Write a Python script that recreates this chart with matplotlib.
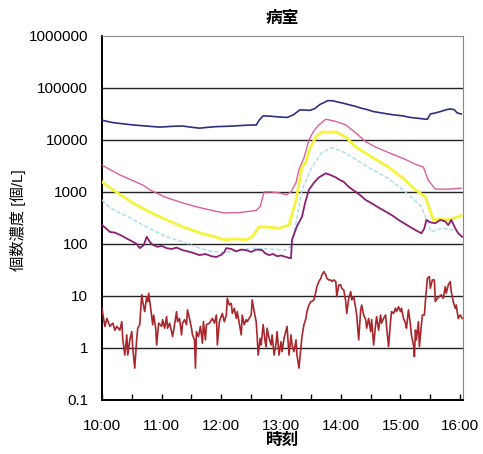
import matplotlib
matplotlib.use("Agg")
import matplotlib.pyplot as plt
from matplotlib.ticker import FixedLocator, FuncFormatter

plt.rcParams["font.family"] = ["Liberation Sans", "Noto Sans CJK JP", "DejaVu Sans"]

# 時刻は 10:00 からの経過分
navy_t = [0, 6, 11, 20, 31, 44, 58, 70, 81, 90, 98, 107, 115, 124, 132, 142, 152, 155,
          158, 162, 170, 176, 186, 192, 199, 209, 214, 219, 223, 227, 232, 236, 242,
          249, 255, 260, 267, 273, 283, 293, 302, 310, 318, 325, 327, 330, 335, 340,
          345, 350, 354, 357, 361]
navy_v = [24000, 22500, 21500, 20500, 19400, 18500, 17600, 18200, 18500, 17500, 16800,
          17500, 18000, 18200, 18500, 19000, 19400, 19200, 24000, 29000, 28500, 27800,
          27000, 30000, 37800, 37000, 40000, 48000, 52000, 57000, 56500, 54000, 51000,
          47000, 44000, 41000, 38000, 35000, 32500, 30300, 29000, 27000, 26000, 25000,
          25000, 31500, 33000, 35000, 37500, 39500, 38000, 33000, 31500]

pink_t = [0, 8, 18, 28, 41, 48, 63, 81, 98, 113, 123, 138, 155, 159, 163, 170, 178, 185,
          190, 195, 198, 203, 208, 213, 218, 225, 235, 245, 255, 265, 277, 288, 305, 315,
          323, 328, 335, 348, 361]
pink_v = [3300, 2700, 2120, 1750, 1360, 1100, 800, 614, 500, 430, 394, 400, 440, 520,
          1000, 1000, 960, 880, 1000, 1500, 2700, 4500, 10000, 15000, 19400, 25000,
          22700, 19400, 13700, 9200, 7000, 5700, 4200, 3400, 3000, 1660, 1130, 1130, 1180]

yellow_t = [0, 11, 20, 31, 48, 65, 81, 100, 112, 123, 135, 145, 151, 158, 168, 178, 188,
            195, 201, 205, 208, 215, 221, 228, 235, 245, 255, 271, 288, 303, 315, 325,
            333, 340, 348, 355, 361]
yellow_v = [1560, 1100, 850, 614, 410, 290, 214, 160, 140, 120, 125, 120, 137, 214, 210,
            200, 230, 700, 3000, 3700, 6300, 11400, 14300, 14000, 14300, 11400, 7300,
            4700, 3000, 1800, 1100, 800, 290, 300, 290, 320, 350]

cyan_t = [0, 8, 18, 28, 38, 52, 65, 81, 98, 110, 123, 138, 151, 168, 185, 190, 195, 201,
          211, 221, 231, 243, 255, 270, 288, 305, 321, 331, 341, 348, 355, 361]
cyan_v = [700, 500, 394, 320, 250, 180, 137, 110, 83, 72, 68, 75, 83, 80, 76, 90, 250,
          1100, 3000, 5700, 7100, 5800, 4200, 2800, 1800, 1000, 520, 170, 200, 190, 185,
          150]

purple_t = [0, 4, 8, 13, 18, 24, 31, 35, 38, 42, 45, 48, 51, 56, 60, 65, 70, 75, 81, 86,
            91, 98, 104, 110, 115, 120, 123, 125, 130, 135, 140, 145, 150, 155, 161, 164,
            168, 172, 176, 180, 185, 188, 190, 191, 196, 201, 204, 208, 213, 218, 225,
            230, 235, 239, 243, 248, 255, 260, 265, 270, 278, 285, 292, 298, 305, 310,
            315, 321, 324, 326, 330, 335, 340, 345, 348, 351, 355, 358, 362]
purple_v = [232, 200, 170, 165, 150, 130, 110, 100, 83, 95, 137, 110, 96, 88, 92, 83, 80,
            85, 76, 72, 68, 61, 64, 58, 56, 62, 70, 83, 80, 72, 78, 76, 70, 78, 76, 66,
            61, 64, 58, 60, 56, 54, 53, 120, 220, 330, 600, 1100, 1500, 1900, 2280, 2100,
            1900, 1700, 1560, 1250, 1000, 850, 700, 620, 500, 420, 350, 290, 240, 210,
            185, 160, 200, 290, 260, 250, 290, 270, 230, 290, 200, 160, 137]

red_t = [0, 3, 5, 8, 11, 13, 15, 18, 20, 21, 23, 25, 26, 28, 30, 31, 33, 35, 36, 38, 40,
         41, 43, 45, 46, 47, 49, 51, 52, 54, 55, 57, 60, 61, 63, 65, 66, 68, 70, 71, 73,
         75, 76, 78, 80, 81, 83, 85, 86, 88, 90, 91, 93, 94, 95, 97, 99, 101, 102, 104,
         105, 108, 111, 113, 115, 116, 118, 121, 123, 125, 126, 128, 130, 131, 133, 135,
         136, 138, 140, 141, 143, 145, 146, 148, 150, 151, 153, 155, 156, 157, 159, 160,
         162, 164, 165, 166, 168, 170, 171, 173, 175, 176, 178, 180, 181, 183, 186, 188,
         190, 191, 193, 195, 196, 198, 200, 201, 203, 205, 206, 208, 210, 211, 213, 215,
         216, 218, 220, 221, 223, 225, 226, 228, 230, 231, 233, 235, 236, 238, 240, 241,
         243, 245, 246, 248, 250, 251, 253, 255, 256, 258, 260, 261, 263, 265, 266, 268,
         270, 271, 273, 275, 276, 278, 280, 281, 283, 285, 286, 288, 290, 291, 293, 295,
         296, 298, 300, 301, 303, 305, 306, 308, 310, 311, 313, 314, 315, 316, 318, 319,
         321, 322, 324, 325, 327, 329, 330, 332, 334, 335, 337, 339, 341, 343, 345, 346,
         348, 350, 351, 353, 355, 356, 358, 360, 362]
red_v = [5.8, 2.6, 3.7, 2.6, 3.0, 2.2, 2.6, 2.2, 3.2, 1.43, 0.73, 1.78, 0.73, 1.43, 2.06,
         0.99, 0.41, 1.53, 2.4, 2.8, 10.5, 7.8, 5.0, 9.7, 7.8, 11.3, 5.8, 2.8, 4.3, 2.4,
         1.14, 3.0, 2.6, 3.5, 2.4, 4.0, 2.4, 3.0, 2.06, 1.65, 2.8, 5.0, 3.2, 3.7, 1.78,
         3.0, 3.5, 2.8, 5.4, 3.7, 2.4, 1.78, 1.43, 0.41, 2.06, 1.65, 2.6, 1.23, 3.2, 1.43,
         2.8, 3.0, 3.7, 3.0, 4.3, 1.14, 3.2, 4.6, 3.2, 4.3, 9.0, 6.7, 7.2, 4.6, 5.8, 3.7,
         5.0, 3.0, 1.78, 4.3, 2.8, 3.5, 3.2, 3.7, 4.3, 8.4, 5.0, 3.2, 1.65, 0.73, 1.53,
         1.14, 2.8, 1.32, 1.06, 2.4, 1.53, 1.14, 1.78, 0.73, 1.23, 2.06, 0.73, 1.32, 0.85,
         1.53, 2.6, 0.73, 1.78, 1.14, 0.85, 1.43, 0.73, 0.41, 1.06, 1.65, 2.8, 3.7, 5.0,
         6.7, 7.8, 7.8, 8.4, 12.1, 15.1, 18.9, 21.9, 25.3, 29.4, 25.3, 21.9, 20.3, 20.3,
         18.9, 20.3, 18.9, 9.7, 16.3, 16.3, 14.0, 13.0, 7.8, 4.6, 9.0, 12.1, 8.4, 9.7,
         5.8, 4.3, 1.43, 5.4, 6.7, 4.3, 3.5, 2.4, 3.7, 2.06, 3.5, 1.14, 2.8, 4.0, 2.2,
         4.3, 3.0, 3.7, 4.3, 2.6, 1.06, 3.2, 5.0, 4.6, 5.8, 5.0, 6.2, 5.0, 5.8, 3.7, 3.0,
         2.4, 5.4, 2.8, 1.78, 1.14, 0.68, 2.2, 1.43, 3.2, 1.06, 2.8, 4.3, 4.3, 7.8, 21.9,
         23.5, 14.0, 20.3, 20.3, 7.8, 9.0, 9.7, 10.5, 9.0, 15.1, 11.3, 16.3, 18.9, 12.1,
         7.8, 5.8, 6.7, 3.7, 4.3, 3.7]

decades = [0.1, 1, 10, 100, 1000, 10000, 100000, 1000000]
hour_ticks = [0, 60, 120, 180, 240, 300, 360]
hour_labels = ["10:00", "11:00", "12:00", "13:00", "14:00", "15:00", "16:00"]

fig = plt.figure(figsize=(4.83, 4.54), dpi=100)
ax = fig.add_axes([0.211, 0.119, 0.748, 0.802])

# 横のグリッド線
for d in decades[1:-1]:
    ax.axhline(d, color="#222222", lw=1.0, zorder=1)

ax.plot(navy_t, navy_v, color="#2e2f80", lw=1.2, zorder=3)
ax.plot(pink_t, pink_v, color="#d9609c", lw=1.0, zorder=3)
ax.plot(cyan_t, cyan_v, color="#a6dcea", lw=1.0, ls=(0, (3, 1.5)), zorder=3)
ax.plot(yellow_t, yellow_v, color="#f4f43c", lw=2.0, zorder=4)
ax.plot(purple_t, purple_v, color="#8a1f74", lw=1.3, zorder=5)
ax.plot(red_t, red_v, color="#a8262c", lw=1.2, zorder=5)

ax.set_yscale("log")
ax.set_ylim(0.1, 1000000)
ax.set_xlim(0, 363)
ax.yaxis.set_major_locator(FixedLocator(decades))
ax.yaxis.set_minor_locator(FixedLocator([]))
ax.yaxis.set_major_formatter(FuncFormatter(lambda v, p: f"{v:.0f}" if v >= 1 else f"{v:g}"))
ax.tick_params(axis="y", length=0, labelsize=11, pad=10)

ax.xaxis.set_major_locator(FixedLocator(hour_ticks))
ax.set_xticklabels(hour_labels)
ax.xaxis.set_minor_locator(FixedLocator(range(30, 361, 60)))
ax.tick_params(axis="x", which="both", direction="in", length=4, width=1,
               labelsize=11, pad=14)

for side in ["left", "bottom"]:
    ax.spines[side].set_linewidth(1.4)
    ax.spines[side].set_color("black")
for side in ["top", "right"]:
    ax.spines[side].set_linewidth(0.8)
    ax.spines[side].set_color("#888888")

ax.set_title("病室", fontsize=12, fontweight="bold", pad=9)
ax.set_xlabel("時刻", fontsize=12, fontweight="bold", labelpad=0)
fig.text(0.037, 0.515, "個数濃度 [個/L]", rotation=90, fontsize=11,
         ha="center", va="center")

fig.savefig("out.png", dpi=100)
